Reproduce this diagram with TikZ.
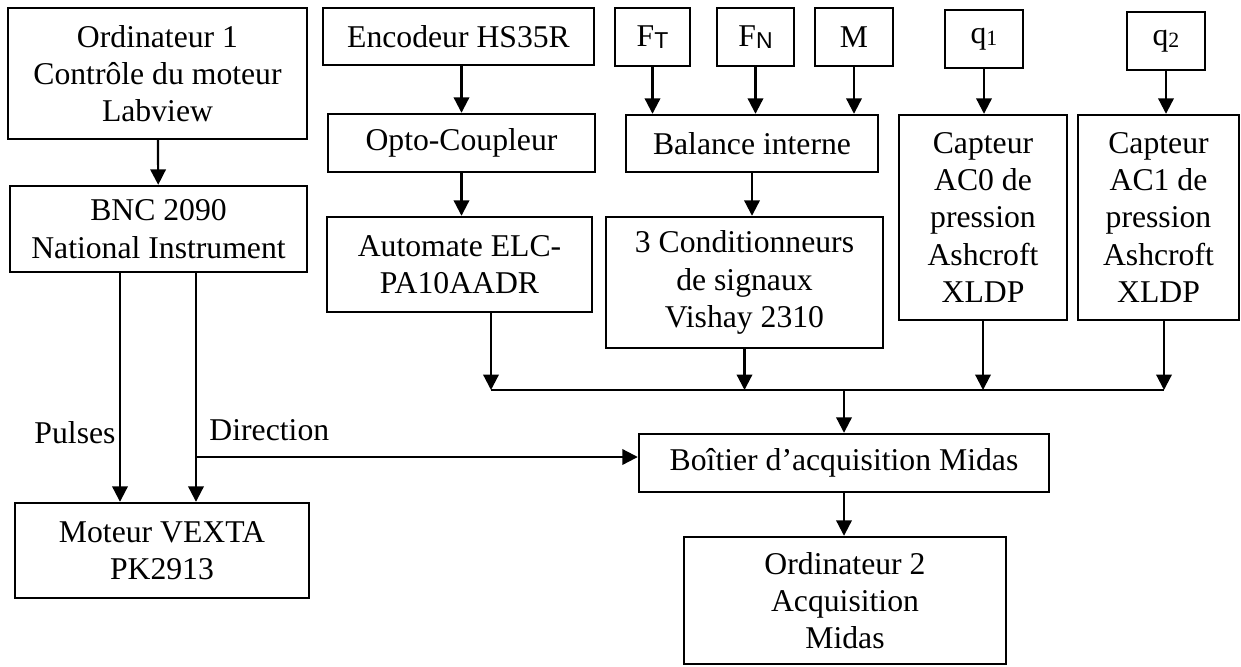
\documentclass[tikz,border=0pt]{standalone}
\usepackage{fontspec}
\setmainfont{Liberation Serif}
\newfontfamily\subsans{Liberation Sans}
\usetikzlibrary{
  arrows.meta,
  positioning
}
\definecolor{linecolor}{RGB}{0, 0, 0}
\definecolor{labelcolor}{RGB}{0, 0, 0}
\tikzset{
blocktext/.style={
  align=center,
  font=\fontsize{13.1}{15.4}\selectfont,
  text=labelcolor
},
block/.style={
  draw=linecolor,
  line width=1pt,
  inner sep=0pt,
  blocktext
},
boxsize/.style 2 args={
  minimum width=#1*0.4133pt,
  minimum height=#2*0.4133pt
},
siglabel/.style={
  blocktext,
  inner sep=0pt
},
arrow/.style={
  -{Triangle[length=6.4pt,width=6.4pt]},
  line width=0.9pt,
  draw=linecolor
},
busline/.style={
  line width=0.9pt,
  draw=linecolor
}
}
\newcommand{\subsf}[1]{\raisebox{-0.8pt}{\subsans\fontsize{9.5}{9.5}\selectfont #1}}
\newcommand{\subrm}[1]{\raisebox{-1pt}{\fontsize{9}{9}\selectfont #1}}

\begin{document}
\begin{tikzpicture}[x=0.4133pt, y=-0.4133pt]
  \useasboundingbox (0,0) rectangle (1241,666);

  % motor control chain
  \node[block, boxsize={299}{131}] (ord1) at (157.5,73.5) {Ordinateur 1\\Contrôle du moteur\\Labview};
  \node[block, boxsize={297}{86}] (bnc) at (158.5,229) {BNC 2090\\National Instrument};
  \node[block, boxsize={294}{95}] (moteur) at (162,550.5) {Moteur VEXTA\\PK2913};

  % encoder chain
  \node[block, boxsize={271}{57}] (enc) at (458.5,36.5) {Encodeur HS35R};
  \node[block, boxsize={267}{58}] (opto) at (461.5,143) {Opto-Coupleur};
  \node[block, boxsize={265}{95}] (autom) at (459.5,264.5) {Automate ELC-\\PA10AADR};

  % balance chain
  \node[block, boxsize={75}{58}] (ft) at (652.5,37) {F\subsf{T}};
  \node[block, boxsize={77}{58}] (fn) at (755.5,37) {F\subsf{N}};
  \node[block, boxsize={78}{58}] (mm) at (854,37) {M};
  \node[block, boxsize={252}{57}] (bal) at (752,143.5) {Balance interne};
  \node[block, boxsize={277}{131}] (cond) at (744.5,282.5) {3 Conditionneurs\\de signaux\\Vishay 2310};

  % pressure sensors
  \node[block, boxsize={78}{58}] (q1) at (984,39) {q\subrm{1}};
  \node[block, boxsize={78}{58}] (q2) at (1166,41) {q\subrm{2}};
  \node[block, boxsize={168}{205}] (ac0) at (983,217.5) {Capteur\\AC0 de\\pression\\Ashcroft\\XLDP};
  \node[block, boxsize={161}{205}] (ac1) at (1158.5,217.5) {Capteur\\AC1 de\\pression\\Ashcroft\\XLDP};

  % acquisition
  \node[block, boxsize={410}{58}] (box) at (844,463) {Boîtier d’acquisition Midas};
  \node[block, boxsize={322}{127}] (ord2) at (845,600.5) {Ordinateur 2\\Acquisition\\Midas};

  \coordinate (busL) at (491,390);
  \coordinate (busR) at (1164,390);
  \coordinate (pulsx) at (120,0);
  \coordinate (dirsplit) at (196,457);

  % connectors
  \draw[arrow] (ord1) -- (bnc);
  \draw[arrow] (bnc.south -| pulsx) -- (moteur.north -| pulsx);
  \draw[arrow] (bnc.south -| dirsplit) -- (moteur.north -| dirsplit);
  \draw[arrow] (dirsplit) -- (dirsplit -| box.west);
  \node[siglabel, anchor=east] (lpulses) at (116,433) {Pulses};
  \node[siglabel, anchor=west] (ldirection) at (209,430) {Direction};

  \draw[arrow] (opto.north |- enc.south) -- (opto.north);
  \draw[arrow] (opto) -- (opto.south |- autom.north);

  \draw[arrow] (ft.south) -- (ft.south |- bal.north);
  \draw[arrow] (fn.south) -- (fn.south |- bal.north);
  \draw[arrow] (mm.south) -- (mm.south |- bal.north);
  \draw[arrow] (bal.south) -- (bal.south |- cond.north);

  \draw[arrow] (q1.south) -- (q1.south |- ac0.north);
  \draw[arrow] (q2.south) -- (q2.south |- ac1.north);

  \draw[arrow] (autom.south -| busL) -- (busL);
  \draw[arrow] (cond.south) -- (cond.south |- busL);
  \draw[arrow] (ac0.south) -- (ac0.south |- busL);
  \draw[arrow] (ac1.south -| busR) -- (busR);
  \draw[busline] (busL) -- (busR);
  \draw[arrow] (box.north |- busL) -- (box.north);
  \draw[arrow] (box.south) -- (box.south |- ord2.north);
\end{tikzpicture}
\end{document}
